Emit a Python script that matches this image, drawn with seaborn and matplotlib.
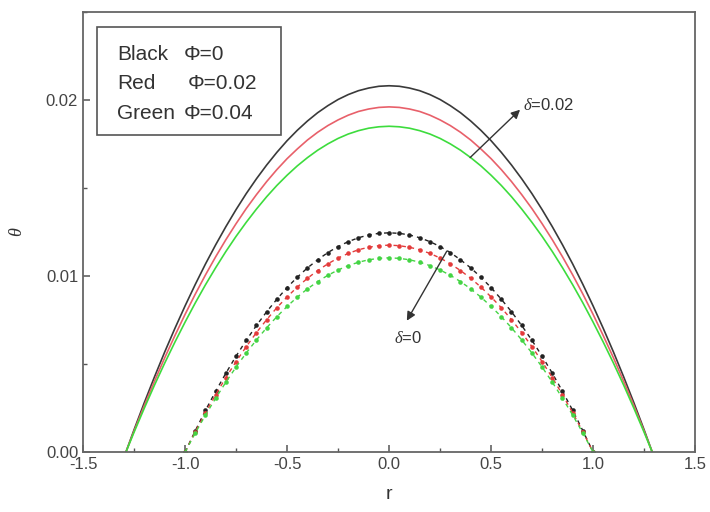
import numpy as np
import matplotlib
matplotlib.use("Agg")
import matplotlib.pyplot as plt
import seaborn as sns
from matplotlib.patches import Rectangle
from matplotlib.ticker import MultipleLocator

# solid curves (delta = 0.02)
r_solid = [-1.29, -1.25, -1.2, -1.15, -1.1, -1.05, -1.0, -0.95, -0.9, -0.85, -0.8, -0.75, -0.7,
           -0.65, -0.6, -0.55, -0.5, -0.45, -0.4, -0.35, -0.3, -0.25, -0.2, -0.15, -0.1, -0.05,
           0.0, 0.05, 0.1, 0.15, 0.2, 0.25, 0.3, 0.35, 0.4, 0.45, 0.5, 0.55, 0.6, 0.65, 0.7,
           0.75, 0.8, 0.85, 0.9, 0.95, 1.0, 1.05, 1.1, 1.15, 1.2, 1.25, 1.29]
theta_black_d2 = [0.0, 0.00127, 0.00280, 0.00427, 0.00568, 0.00702, 0.00830, 0.00952, 0.01068,
                  0.01177, 0.01280, 0.01377, 0.01468, 0.01552, 0.01630, 0.01702, 0.01768, 0.01827,
                  0.01880, 0.01927, 0.01967, 0.02002, 0.02030, 0.02052, 0.02067, 0.02077, 0.02080,
                  0.02077, 0.02067, 0.02052, 0.02030, 0.02002, 0.01967, 0.01927, 0.01880, 0.01827,
                  0.01768, 0.01702, 0.01630, 0.01552, 0.01468, 0.01377, 0.01280, 0.01177, 0.01068,
                  0.00952, 0.00830, 0.00702, 0.00568, 0.00427, 0.00280, 0.00127, 0.0]
theta_red_d2 = [0.0, 0.00120, 0.00264, 0.00402, 0.00535, 0.00661, 0.00782, 0.00897, 0.01006,
                0.01109, 0.01206, 0.01297, 0.01383, 0.01462, 0.01536, 0.01604, 0.01666, 0.01721,
                0.01772, 0.01816, 0.01854, 0.01886, 0.01913, 0.01934, 0.01948, 0.01957, 0.01960,
                0.01957, 0.01948, 0.01934, 0.01913, 0.01886, 0.01854, 0.01816, 0.01772, 0.01721,
                0.01666, 0.01604, 0.01536, 0.01462, 0.01383, 0.01297, 0.01206, 0.01109, 0.01006,
                0.00897, 0.00782, 0.00661, 0.00535, 0.00402, 0.00264, 0.00120, 0.0]
theta_green_d2 = [0.0, 0.00113, 0.00249, 0.00380, 0.00505, 0.00624, 0.00738, 0.00847, 0.00950,
                  0.01047, 0.01139, 0.01225, 0.01305, 0.01380, 0.01450, 0.01514, 0.01572, 0.01625,
                  0.01672, 0.01714, 0.01750, 0.01781, 0.01806, 0.01825, 0.01839, 0.01847, 0.01850,
                  0.01847, 0.01839, 0.01825, 0.01806, 0.01781, 0.01750, 0.01714, 0.01672, 0.01625,
                  0.01572, 0.01514, 0.01450, 0.01380, 0.01305, 0.01225, 0.01139, 0.01047, 0.00950,
                  0.00847, 0.00738, 0.00624, 0.00505, 0.00380, 0.00249, 0.00113, 0.0]

# dotted curves (delta = 0)
r_dot = [-1.0, -0.95, -0.9, -0.85, -0.8, -0.75, -0.7, -0.65, -0.6, -0.55, -0.5, -0.45, -0.4,
         -0.35, -0.3, -0.25, -0.2, -0.15, -0.1, -0.05, 0.0, 0.05, 0.1, 0.15, 0.2, 0.25, 0.3,
         0.35, 0.4, 0.45, 0.5, 0.55, 0.6, 0.65, 0.7, 0.75, 0.8, 0.85, 0.9, 0.95, 1.0]
theta_black_d0 = [0.0, 0.00121, 0.00237, 0.00345, 0.00448, 0.00545, 0.00635, 0.00719, 0.00797,
                  0.00868, 0.00934, 0.00993, 0.01046, 0.01092, 0.01133, 0.01167, 0.01195, 0.01217,
                  0.01233, 0.01242, 0.01245, 0.01242, 0.01233, 0.01217, 0.01195, 0.01167, 0.01133,
                  0.01092, 0.01046, 0.00993, 0.00934, 0.00868, 0.00797, 0.00719, 0.00635, 0.00545,
                  0.00448, 0.00345, 0.00237, 0.00121, 0.0]
theta_red_d0 = [0.0, 0.00115, 0.00223, 0.00326, 0.00423, 0.00514, 0.00599, 0.00679, 0.00752,
                0.00820, 0.00881, 0.00937, 0.00987, 0.01031, 0.01069, 0.01102, 0.01128, 0.01149,
                0.01163, 0.01172, 0.01175, 0.01172, 0.01163, 0.01149, 0.01128, 0.01102, 0.01069,
                0.01031, 0.00987, 0.00937, 0.00881, 0.00820, 0.00752, 0.00679, 0.00599, 0.00514,
                0.00423, 0.00326, 0.00223, 0.00115, 0.0]
theta_green_d0 = [0.0, 0.00108, 0.00210, 0.00306, 0.00397, 0.00483, 0.00563, 0.00637, 0.00706,
                  0.00769, 0.00827, 0.00880, 0.00927, 0.00968, 0.01004, 0.01034, 0.01059, 0.01078,
                  0.01092, 0.01100, 0.01103, 0.01100, 0.01092, 0.01078, 0.01059, 0.01034, 0.01004,
                  0.00968, 0.00927, 0.00880, 0.00827, 0.00769, 0.00706, 0.00637, 0.00563, 0.00483,
                  0.00397, 0.00306, 0.00210, 0.00108, 0.0]

legend_names = ["Black", "Red", "Green"]
legend_phi = ["Φ=0", "Φ=0.02", "Φ=0.04"]

sns.set_style("ticks")
plt.rcParams["font.family"] = ["Liberation Sans", "DejaVu Sans"]
plt.rcParams["mathtext.fontset"] = "custom"
plt.rcParams["mathtext.it"] = "Liberation Serif:italic"
plt.rcParams["mathtext.rm"] = "Liberation Sans"

fig = plt.figure(figsize=(7.1, 5.12), dpi=100)
ax = fig.add_axes([0.117, 0.117, 0.862, 0.860])

cols = {"Black": "#3a3a3a", "Red": "#e8606a", "Green": "#3ddc3d"}
for name, th in zip(legend_names, [theta_black_d2, theta_red_d2, theta_green_d2]):
    sns.lineplot(x=r_solid, y=th, color=cols[name], lw=1.2, ax=ax, sort=False)

dot_cols = {"Black": "#222222", "Red": "#e33b3b", "Green": "#44d444"}
for name, th in zip(legend_names, [theta_black_d0, theta_red_d0, theta_green_d0]):
    sns.lineplot(x=r_dot, y=th, color=dot_cols[name], lw=1.0, linestyle=(0, (3, 3)),
                 marker="o", markersize=3.3, markeredgewidth=0, ax=ax, sort=False)

ax.set_xlim(-1.5, 1.5)
ax.set_ylim(0, 0.025)
ax.xaxis.set_major_locator(MultipleLocator(0.5))
ax.xaxis.set_minor_locator(MultipleLocator(0.25))
ax.yaxis.set_major_locator(MultipleLocator(0.01))
ax.yaxis.set_minor_locator(MultipleLocator(0.005))
ax.xaxis.set_major_formatter(plt.FormatStrFormatter("%.1f"))
ax.yaxis.set_major_formatter(plt.FormatStrFormatter("%.2f"))
ax.tick_params(which="both", direction="in", colors="#555555", labelcolor="#444444",
               top=False, right=False)
ax.tick_params(which="major", length=5, width=1.1, labelsize=12)
ax.tick_params(which="minor", length=3, width=1.0)
for sp in ax.spines.values():
    sp.set_color("#666666")
    sp.set_linewidth(1.3)

ax.set_xlabel("r", fontsize=14, color="#333333", labelpad=10)
ax.set_ylabel(r"$\theta$", fontsize=13, color="#333333", labelpad=14)

# legend box drawn as text
ax.add_patch(Rectangle((-1.431, 0.01802), 0.902, 0.0061, fill=False,
                       edgecolor="#555555", lw=1.2, zorder=5))
for i, (nm, ph) in enumerate(zip(legend_names, legend_phi)):
    yy = 0.0226 - i * 0.0017
    ax.text(-1.333, yy, nm, fontsize=15, color="#333333", va="center", ha="left")
    ax.text(-1.005 if nm != "Red" else -0.985, yy, ph, fontsize=15, color="#333333",
            va="center", ha="left")

arrow = dict(arrowstyle="-|>", color="#333333", lw=1.0, mutation_scale=13,
             shrinkA=0, shrinkB=0)
ax.annotate("", xy=(0.642, 0.01944), xytext=(0.397, 0.01672), arrowprops=arrow)
ax.text(0.657, 0.01972, r"$\delta$=0.02", fontsize=12, color="#333333", va="center", ha="left")
ax.annotate("", xy=(0.087, 0.00746), xytext=(0.283, 0.01141), arrowprops=arrow)
ax.text(0.091, 0.0065, r"$\delta$=0", fontsize=12, color="#333333", va="center", ha="center")

fig.savefig("out.png", dpi=100)
